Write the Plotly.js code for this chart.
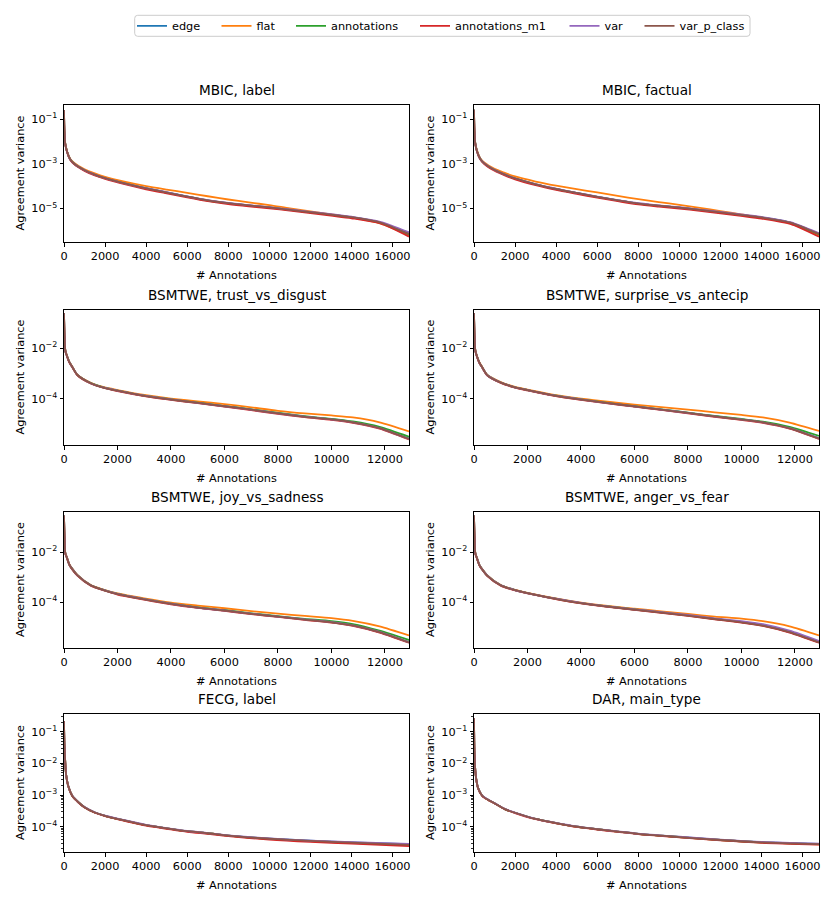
<!DOCTYPE html>
<html>
<head>
<meta charset="utf-8">
<script src="https://cdn.plot.ly/plotly-3.0.1.min.js"></script>
<style>
  html, body { margin: 0; padding: 0; background: #fff; }
  #chart { width: 831px; height: 900px; }
</style>
</head>
<body>
<div id="chart"></div>
<script>
// series names (legend order = drawing order)
const seriesNames = ['edge', 'flat', 'annotations', 'annotations_m1', 'var', 'var_p_class'];
const seriesColors = ['#1f77b4', '#ff7f0e', '#2ca02c', '#d62728', '#9467bd', '#8c564b'];

// x grids (number of annotations)
const xMBIC = [0, 20, 60, 150, 300, 500, 1000, 1500, 2000, 3000, 4000, 5000, 6000, 7000, 8000, 9000, 10000, 11000, 12000, 13000, 14000, 15400, 16800];
const xBSM = [0, 20, 50, 100, 200, 300, 500, 1000, 1500, 2000, 3000, 4000, 5000, 6000, 7000, 8000, 9000, 10000, 10800, 11800, 12900];
const xFD = [0, 20, 50, 100, 200, 400, 700, 1000, 1500, 2000, 3000, 4000, 5000, 6000, 7000, 8000, 10000, 12000, 14000, 16800];

// MBIC, label
const mbicLabelEdge = [2.6e-1, 3.0e-2, 8.0e-3, 3.5e-3, 1.6e-3, 1.0e-3, 5.2e-4, 3.3e-4, 2.3e-4, 1.3e-4, 8.0e-5, 5.2e-5, 3.4e-5, 2.3e-5, 1.7e-5, 1.35e-5, 1.1e-5, 8.6e-6, 6.7e-6, 5.2e-6, 4.0e-6, 2.3e-6, 7.8e-7];
const mbicLabelFlat = [2.6e-1, 3.1e-2, 8.5e-3, 3.7e-3, 1.7e-3, 1.1e-3, 5.7e-4, 3.7e-4, 2.6e-4, 1.55e-4, 1.0e-4, 7.0e-5, 5.0e-5, 3.5e-5, 2.5e-5, 1.85e-5, 1.4e-5, 1.0e-5, 7.4e-6, 5.3e-6, 3.9e-6, 2.1e-6, 6.0e-7];
const mbicLabelAnn = [2.6e-1, 3.0e-2, 8.0e-3, 3.5e-3, 1.6e-3, 1.0e-3, 5.1e-4, 3.2e-4, 2.25e-4, 1.28e-4, 7.8e-5, 5.1e-5, 3.35e-5, 2.25e-5, 1.68e-5, 1.33e-5, 1.08e-5, 8.5e-6, 6.6e-6, 5.1e-6, 3.9e-6, 2.25e-6, 6.8e-7];
const mbicLabelAnnM1 = [2.5e-1, 2.9e-2, 7.6e-3, 3.3e-3, 1.5e-3, 9.4e-4, 4.8e-4, 3.0e-4, 2.1e-4, 1.18e-4, 7.2e-5, 4.7e-5, 3.1e-5, 2.1e-5, 1.55e-5, 1.23e-5, 1.0e-5, 7.9e-6, 6.1e-6, 4.7e-6, 3.6e-6, 2.1e-6, 5.4e-7];
const mbicLabelVar = [2.6e-1, 3.0e-2, 8.1e-3, 3.5e-3, 1.6e-3, 1.0e-3, 5.2e-4, 3.3e-4, 2.3e-4, 1.3e-4, 8.1e-5, 5.3e-5, 3.45e-5, 2.35e-5, 1.75e-5, 1.4e-5, 1.13e-5, 8.9e-6, 7.0e-6, 5.5e-6, 4.2e-6, 2.5e-6, 8.4e-7];
const mbicLabelVarP = [2.6e-1, 3.0e-2, 8.0e-3, 3.5e-3, 1.6e-3, 1.0e-3, 5.15e-4, 3.25e-4, 2.28e-4, 1.29e-4, 7.9e-5, 5.15e-5, 3.38e-5, 2.28e-5, 1.7e-5, 1.35e-5, 1.1e-5, 8.6e-6, 6.7e-6, 5.2e-6, 4.0e-6, 2.3e-6, 7.0e-7];

// MBIC, factual
const mbicFactEdge = [2.7e-1, 3.2e-2, 8.5e-3, 3.6e-3, 1.7e-3, 1.05e-3, 5.3e-4, 3.3e-4, 2.2e-4, 1.2e-4, 7.4e-5, 4.9e-5, 3.3e-5, 2.3e-5, 1.65e-5, 1.32e-5, 1.08e-5, 8.5e-6, 6.6e-6, 5.1e-6, 3.9e-6, 2.3e-6, 7.2e-7];
const mbicFactFlat = [2.7e-1, 3.3e-2, 9.0e-3, 3.9e-3, 1.8e-3, 1.15e-3, 5.9e-4, 3.9e-4, 2.7e-4, 1.6e-4, 1.05e-4, 7.3e-5, 5.2e-5, 3.6e-5, 2.6e-5, 1.9e-5, 1.45e-5, 1.05e-5, 7.6e-6, 5.4e-6, 3.9e-6, 2.1e-6, 6.0e-7];
const mbicFactAnn = [2.7e-1, 3.2e-2, 8.5e-3, 3.6e-3, 1.7e-3, 1.05e-3, 5.25e-4, 3.25e-4, 2.18e-4, 1.19e-4, 7.3e-5, 4.85e-5, 3.25e-5, 2.27e-5, 1.63e-5, 1.3e-5, 1.07e-5, 8.4e-6, 6.5e-6, 5.0e-6, 3.85e-6, 2.25e-6, 6.9e-7];
const mbicFactAnnM1 = [2.6e-1, 3.1e-2, 8.1e-3, 3.4e-3, 1.6e-3, 9.8e-4, 4.9e-4, 3.0e-4, 2.0e-4, 1.1e-4, 6.8e-5, 4.5e-5, 3.0e-5, 2.1e-5, 1.5e-5, 1.2e-5, 9.8e-6, 7.8e-6, 6.0e-6, 4.6e-6, 3.5e-6, 2.0e-6, 5.3e-7];
const mbicFactVar = [2.7e-1, 3.2e-2, 8.6e-3, 3.6e-3, 1.7e-3, 1.06e-3, 5.35e-4, 3.35e-4, 2.25e-4, 1.22e-4, 7.6e-5, 5.0e-5, 3.4e-5, 2.35e-5, 1.7e-5, 1.36e-5, 1.12e-5, 8.8e-6, 6.9e-6, 5.3e-6, 4.1e-6, 2.4e-6, 7.6e-7];
const mbicFactVarP = [2.7e-1, 3.2e-2, 8.5e-3, 3.6e-3, 1.7e-3, 1.05e-3, 5.3e-4, 3.3e-4, 2.2e-4, 1.2e-4, 7.4e-5, 4.9e-5, 3.3e-5, 2.3e-5, 1.65e-5, 1.32e-5, 1.08e-5, 8.5e-6, 6.6e-6, 5.1e-6, 3.9e-6, 2.3e-6, 7.0e-7];

// BSMTWE, trust_vs_disgust
const trustEdge = [2.5e-1, 3.0e-2, 8.0e-3, 5.4e-3, 2.8e-3, 1.9e-3, 8.8e-4, 4.15e-4, 2.75e-4, 2.1e-4, 1.32e-4, 9.4e-5, 6.9e-5, 5.1e-5, 3.7e-5, 2.65e-5, 1.95e-5, 1.52e-5, 1.17e-5, 7.0e-6, 2.6e-6];
const trustFlat = [2.5e-1, 3.0e-2, 8.2e-3, 5.5e-3, 2.9e-3, 1.95e-3, 9.0e-4, 4.3e-4, 2.85e-4, 2.2e-4, 1.4e-4, 1.0e-4, 7.8e-5, 6.1e-5, 4.5e-5, 3.3e-5, 2.6e-5, 2.15e-5, 1.8e-5, 1.15e-5, 5.0e-6];
const trustAnn = [2.5e-1, 3.0e-2, 8.0e-3, 5.4e-3, 2.8e-3, 1.9e-3, 8.8e-4, 4.15e-4, 2.75e-4, 2.1e-4, 1.32e-4, 9.4e-5, 6.9e-5, 5.1e-5, 3.75e-5, 2.7e-5, 2.0e-5, 1.58e-5, 1.24e-5, 7.6e-6, 3.1e-6];
const trustAnnM1 = [2.4e-1, 2.9e-2, 7.8e-3, 5.2e-3, 2.7e-3, 1.85e-3, 8.5e-4, 4.0e-4, 2.65e-4, 2.0e-4, 1.27e-4, 9.0e-5, 6.6e-5, 4.85e-5, 3.5e-5, 2.5e-5, 1.85e-5, 1.45e-5, 1.1e-5, 6.5e-6, 2.4e-6];
const trustVar = [2.5e-1, 3.0e-2, 8.0e-3, 5.4e-3, 2.8e-3, 1.9e-3, 8.8e-4, 4.1e-4, 2.72e-4, 2.08e-4, 1.31e-4, 9.3e-5, 6.8e-5, 5.0e-5, 3.65e-5, 2.62e-5, 1.93e-5, 1.5e-5, 1.15e-5, 6.8e-6, 2.5e-6];
const trustVarP = [2.5e-1, 3.0e-2, 8.0e-3, 5.4e-3, 2.8e-3, 1.9e-3, 8.7e-4, 4.1e-4, 2.7e-4, 2.07e-4, 1.3e-4, 9.2e-5, 6.8e-5, 5.0e-5, 3.65e-5, 2.6e-5, 1.9e-5, 1.5e-5, 1.15e-5, 6.8e-6, 2.5e-6];

// BSMTWE, surprise_vs_antecip
const surpEdge = [2.5e-1, 3.0e-2, 8.0e-3, 5.2e-3, 2.7e-3, 1.8e-3, 8.5e-4, 4.4e-4, 2.9e-4, 2.2e-4, 1.35e-4, 9.4e-5, 6.8e-5, 5.0e-5, 3.7e-5, 2.75e-5, 2.0e-5, 1.5e-5, 1.16e-5, 6.8e-6, 2.7e-6];
const surpFlat = [2.5e-1, 3.0e-2, 8.2e-3, 5.3e-3, 2.8e-3, 1.85e-3, 8.8e-4, 4.6e-4, 3.0e-4, 2.3e-4, 1.42e-4, 1.0e-4, 7.6e-5, 5.8e-5, 4.6e-5, 3.7e-5, 2.85e-5, 2.25e-5, 1.8e-5, 1.12e-5, 5.2e-6];
const surpAnn = [2.5e-1, 3.0e-2, 8.0e-3, 5.2e-3, 2.7e-3, 1.8e-3, 8.5e-4, 4.4e-4, 2.9e-4, 2.2e-4, 1.35e-4, 9.4e-5, 6.8e-5, 5.0e-5, 3.75e-5, 2.8e-5, 2.05e-5, 1.56e-5, 1.23e-5, 7.6e-6, 3.3e-6];
const surpAnnM1 = [2.4e-1, 2.9e-2, 7.8e-3, 5.0e-3, 2.6e-3, 1.75e-3, 8.2e-4, 4.25e-4, 2.8e-4, 2.12e-4, 1.3e-4, 9.0e-5, 6.5e-5, 4.8e-5, 3.55e-5, 2.6e-5, 1.9e-5, 1.43e-5, 1.1e-5, 6.4e-6, 2.5e-6];
const surpVar = [2.5e-1, 3.0e-2, 8.0e-3, 5.2e-3, 2.7e-3, 1.8e-3, 8.5e-4, 4.4e-4, 2.9e-4, 2.2e-4, 1.34e-4, 9.3e-5, 6.7e-5, 4.95e-5, 3.68e-5, 2.72e-5, 1.98e-5, 1.49e-5, 1.15e-5, 6.7e-6, 2.6e-6];
const surpVarP = [2.5e-1, 3.0e-2, 8.0e-3, 5.2e-3, 2.7e-3, 1.8e-3, 8.4e-4, 4.35e-4, 2.87e-4, 2.18e-4, 1.33e-4, 9.2e-5, 6.7e-5, 4.9e-5, 3.65e-5, 2.7e-5, 1.96e-5, 1.48e-5, 1.14e-5, 6.6e-6, 2.6e-6];

// BSMTWE, joy_vs_sadness
const joyEdge = [3.0e-1, 4.0e-2, 9.0e-3, 6.5e-3, 3.2e-3, 2.2e-3, 1.2e-3, 4.7e-4, 3.0e-4, 2.1e-4, 1.3e-4, 8.5e-5, 6.0e-5, 4.6e-5, 3.4e-5, 2.6e-5, 2.0e-5, 1.55e-5, 1.15e-5, 6.2e-6, 2.4e-6];
const joyFlat = [3.0e-1, 4.0e-2, 9.2e-3, 6.7e-3, 3.3e-3, 2.25e-3, 1.22e-3, 4.8e-4, 3.1e-4, 2.2e-4, 1.4e-4, 9.5e-5, 7.2e-5, 5.6e-5, 4.3e-5, 3.4e-5, 2.75e-5, 2.25e-5, 1.75e-5, 1.05e-5, 4.5e-6];
const joyAnn = [3.0e-1, 4.0e-2, 9.0e-3, 6.5e-3, 3.2e-3, 2.2e-3, 1.2e-3, 4.7e-4, 3.0e-4, 2.1e-4, 1.3e-4, 8.6e-5, 6.1e-5, 4.7e-5, 3.5e-5, 2.7e-5, 2.1e-5, 1.7e-5, 1.3e-5, 7.0e-6, 2.95e-6];
const joyAnnM1 = [2.9e-1, 3.9e-2, 8.7e-3, 6.3e-3, 3.1e-3, 2.1e-3, 1.15e-3, 4.5e-4, 2.9e-4, 2.0e-4, 1.25e-4, 8.1e-5, 5.8e-5, 4.4e-5, 3.25e-5, 2.5e-5, 1.9e-5, 1.48e-5, 1.1e-5, 5.9e-6, 2.3e-6];
const joyVar = [3.0e-1, 4.0e-2, 9.0e-3, 6.5e-3, 3.2e-3, 2.2e-3, 1.2e-3, 4.7e-4, 3.0e-4, 2.1e-4, 1.3e-4, 8.5e-5, 6.0e-5, 4.6e-5, 3.4e-5, 2.6e-5, 2.0e-5, 1.56e-5, 1.16e-5, 6.3e-6, 2.4e-6];
const joyVarP = [3.0e-1, 4.0e-2, 9.0e-3, 6.4e-3, 3.15e-3, 2.15e-3, 1.18e-3, 4.65e-4, 2.95e-4, 2.07e-4, 1.28e-4, 8.4e-5, 5.95e-5, 4.55e-5, 3.35e-5, 2.57e-5, 1.97e-5, 1.53e-5, 1.14e-5, 6.1e-6, 2.35e-6];

// BSMTWE, anger_vs_fear
const angerEdge = [3.0e-1, 4.0e-2, 9.0e-3, 6.3e-3, 3.1e-3, 2.1e-3, 1.15e-3, 4.7e-4, 3.1e-4, 2.3e-4, 1.4e-4, 9.1e-5, 6.6e-5, 5.0e-5, 3.8e-5, 2.9e-5, 2.1e-5, 1.55e-5, 1.15e-5, 6.2e-6, 2.4e-6];
const angerFlat = [3.0e-1, 4.0e-2, 9.2e-3, 6.4e-3, 3.15e-3, 2.15e-3, 1.17e-3, 4.8e-4, 3.15e-4, 2.35e-4, 1.44e-4, 9.5e-5, 6.9e-5, 5.4e-5, 4.2e-5, 3.3e-5, 2.6e-5, 2.15e-5, 1.7e-5, 1.05e-5, 4.5e-6];
const angerAnn = [3.0e-1, 4.0e-2, 9.0e-3, 6.3e-3, 3.1e-3, 2.1e-3, 1.15e-3, 4.7e-4, 3.1e-4, 2.3e-4, 1.4e-4, 9.1e-5, 6.6e-5, 5.0e-5, 3.8e-5, 2.9e-5, 2.1e-5, 1.57e-5, 1.17e-5, 6.4e-6, 2.5e-6];
const angerAnnM1 = [2.9e-1, 3.9e-2, 8.7e-3, 6.1e-3, 3.0e-3, 2.05e-3, 1.1e-3, 4.55e-4, 3.0e-4, 2.2e-4, 1.35e-4, 8.8e-5, 6.35e-5, 4.8e-5, 3.65e-5, 2.75e-5, 2.0e-5, 1.48e-5, 1.1e-5, 5.9e-6, 2.3e-6];
const angerVar = [3.0e-1, 4.0e-2, 9.0e-3, 6.3e-3, 3.1e-3, 2.1e-3, 1.15e-3, 4.7e-4, 3.1e-4, 2.3e-4, 1.4e-4, 9.2e-5, 6.7e-5, 5.1e-5, 3.9e-5, 3.0e-5, 2.2e-5, 1.7e-5, 1.28e-5, 7.0e-6, 2.7e-6];
const angerVarP = [3.0e-1, 4.0e-2, 9.0e-3, 6.2e-3, 3.05e-3, 2.08e-3, 1.13e-3, 4.65e-4, 3.05e-4, 2.27e-4, 1.38e-4, 9.0e-5, 6.5e-5, 4.95e-5, 3.75e-5, 2.85e-5, 2.07e-5, 1.53e-5, 1.13e-5, 6.1e-6, 2.35e-6];

// FECG, label
const fecgEdge = [2.2e-1, 4.0e-2, 1.5e-2, 4.6e-3, 2.0e-3, 9.5e-4, 5.9e-4, 4.1e-4, 2.8e-4, 2.2e-4, 1.55e-4, 1.12e-4, 8.9e-5, 7.2e-5, 6.2e-5, 5.25e-5, 4.2e-5, 3.6e-5, 3.2e-5, 2.8e-5];
const fecgFlat = [2.2e-1, 4.0e-2, 1.5e-2, 4.6e-3, 2.0e-3, 9.5e-4, 5.9e-4, 4.1e-4, 2.8e-4, 2.2e-4, 1.55e-4, 1.12e-4, 8.9e-5, 7.2e-5, 6.2e-5, 5.2e-5, 4.1e-5, 3.5e-5, 3.1e-5, 2.6e-5];
const fecgAnn = [2.2e-1, 4.0e-2, 1.5e-2, 4.6e-3, 2.0e-3, 9.5e-4, 5.9e-4, 4.1e-4, 2.8e-4, 2.2e-4, 1.55e-4, 1.12e-4, 8.9e-5, 7.2e-5, 6.2e-5, 5.2e-5, 4.1e-5, 3.5e-5, 3.1e-5, 2.6e-5];
const fecgAnnM1 = [2.2e-1, 3.9e-2, 1.45e-2, 4.5e-3, 1.95e-3, 9.3e-4, 5.8e-4, 4.0e-4, 2.75e-4, 2.15e-4, 1.5e-4, 1.08e-4, 8.6e-5, 6.9e-5, 5.9e-5, 5.0e-5, 3.9e-5, 3.3e-5, 2.9e-5, 2.45e-5];
const fecgVar = [2.2e-1, 4.0e-2, 1.5e-2, 4.6e-3, 2.0e-3, 9.6e-4, 6.0e-4, 4.15e-4, 2.85e-4, 2.22e-4, 1.57e-4, 1.14e-4, 9.0e-5, 7.3e-5, 6.3e-5, 5.3e-5, 4.25e-5, 3.65e-5, 3.25e-5, 2.85e-5];
const fecgVarP = [2.2e-1, 4.0e-2, 1.5e-2, 4.6e-3, 2.0e-3, 9.5e-4, 5.9e-4, 4.1e-4, 2.8e-4, 2.2e-4, 1.55e-4, 1.12e-4, 8.9e-5, 7.2e-5, 6.2e-5, 5.2e-5, 4.15e-5, 3.55e-5, 3.15e-5, 2.65e-5];

// DAR, main_type
const darEdge = [2.6e-1, 2.5e-2, 8.0e-3, 3.5e-3, 1.65e-3, 9.5e-4, 7.0e-4, 5.5e-4, 3.6e-4, 2.75e-4, 1.75e-4, 1.3e-4, 1.0e-4, 8.3e-5, 7.0e-5, 5.95e-5, 4.75e-5, 3.85e-5, 3.25e-5, 2.85e-5];
const darFlat = [2.6e-1, 2.5e-2, 8.0e-3, 3.5e-3, 1.65e-3, 9.5e-4, 7.0e-4, 5.5e-4, 3.6e-4, 2.75e-4, 1.75e-4, 1.3e-4, 1.0e-4, 8.3e-5, 7.0e-5, 5.9e-5, 4.7e-5, 3.8e-5, 3.2e-5, 2.75e-5];
const darAnn = [2.6e-1, 2.5e-2, 8.0e-3, 3.5e-3, 1.65e-3, 9.5e-4, 7.0e-4, 5.5e-4, 3.6e-4, 2.75e-4, 1.75e-4, 1.3e-4, 1.0e-4, 8.3e-5, 7.0e-5, 5.9e-5, 4.7e-5, 3.8e-5, 3.2e-5, 2.8e-5];
const darAnnM1 = [2.6e-1, 2.5e-2, 7.9e-3, 3.45e-3, 1.62e-3, 9.3e-4, 6.9e-4, 5.4e-4, 3.55e-4, 2.7e-4, 1.72e-4, 1.28e-4, 9.8e-5, 8.1e-5, 6.85e-5, 5.8e-5, 4.6e-5, 3.7e-5, 3.1e-5, 2.7e-5];
const darVar = [2.6e-1, 2.5e-2, 8.0e-3, 3.5e-3, 1.65e-3, 9.6e-4, 7.1e-4, 5.55e-4, 3.65e-4, 2.8e-4, 1.77e-4, 1.32e-4, 1.02e-4, 8.4e-5, 7.1e-5, 6.0e-5, 4.8e-5, 3.9e-5, 3.3e-5, 2.9e-5];
const darVarP = [2.6e-1, 2.5e-2, 8.0e-3, 3.5e-3, 1.65e-3, 9.5e-4, 7.0e-4, 5.5e-4, 3.6e-4, 2.75e-4, 1.75e-4, 1.3e-4, 1.0e-4, 8.3e-5, 7.0e-5, 5.9e-5, 4.7e-5, 3.8e-5, 3.2e-5, 2.8e-5];

// tick positions and labels
const xTicksLong = [0, 2000, 4000, 6000, 8000, 10000, 12000, 14000, 16000];
const xTicksShort = [0, 2000, 4000, 6000, 8000, 10000, 12000];
const yTicksMBIC = [1e-1, 1e-3, 1e-5];
const yLabelsMBIC = ['10<sup>−1</sup>', '10<sup>−3</sup>', '10<sup>−5</sup>'];
const yTicksBSM = [1e-2, 1e-4];
const yLabelsBSM = ['10<sup>−2</sup>', '10<sup>−4</sup>'];
const yTicksFD = [1e-1, 1e-2, 1e-3, 1e-4];
const yLabelsFD = ['10<sup>−1</sup>', '10<sup>−2</sup>', '10<sup>−3</sup>', '10<sup>−4</sup>'];

const panelTitles = ['MBIC, label', 'MBIC, factual', 'BSMTWE, trust_vs_disgust', 'BSMTWE, surprise_vs_antecip',
  'BSMTWE, joy_vs_sadness', 'BSMTWE, anger_vs_fear', 'FECG, label', 'DAR, main_type'];

// панели: данные + оси
const panels = [
  { x: xMBIC, ys: [mbicLabelEdge, mbicLabelFlat, mbicLabelAnn, mbicLabelAnnM1, mbicLabelVar, mbicLabelVarP], xmax: 16800, yr: [-6.51, -0.36], xt: xTicksLong, yt: yTicksMBIC, yl: yLabelsMBIC },
  { x: xMBIC, ys: [mbicFactEdge, mbicFactFlat, mbicFactAnn, mbicFactAnnM1, mbicFactVar, mbicFactVarP], xmax: 16800, yr: [-6.51, -0.36], xt: xTicksLong, yt: yTicksMBIC, yl: yLabelsMBIC },
  { x: xBSM, ys: [trustEdge, trustFlat, trustAnn, trustAnnM1, trustVar, trustVarP], xmax: 12900, yr: [-5.84, -0.48], xt: xTicksShort, yt: yTicksBSM, yl: yLabelsBSM },
  { x: xBSM, ys: [surpEdge, surpFlat, surpAnn, surpAnnM1, surpVar, surpVarP], xmax: 12900, yr: [-5.84, -0.48], xt: xTicksShort, yt: yTicksBSM, yl: yLabelsBSM },
  { x: xBSM, ys: [joyEdge, joyFlat, joyAnn, joyAnnM1, joyVar, joyVarP], xmax: 12900, yr: [-5.85, -0.38], xt: xTicksShort, yt: yTicksBSM, yl: yLabelsBSM },
  { x: xBSM, ys: [angerEdge, angerFlat, angerAnn, angerAnnM1, angerVar, angerVarP], xmax: 12900, yr: [-5.85, -0.38], xt: xTicksShort, yt: yTicksBSM, yl: yLabelsBSM },
  { x: xFD, ys: [fecgEdge, fecgFlat, fecgAnn, fecgAnnM1, fecgVar, fecgVarP], xmax: 16800, yr: [-4.8, -0.44], xt: xTicksLong, yt: yTicksFD, yl: yLabelsFD, minor: true },
  { x: xFD, ys: [darEdge, darFlat, darAnn, darAnnM1, darVar, darVarP], xmax: 16800, yr: [-4.8, -0.44], xt: xTicksLong, yt: yTicksFD, yl: yLabelsFD, minor: true },
];

// геометрия в пикселях
const W = 831, H = 900;
const cols = [[64, 409], [474, 819]];
const rows = [[105, 242], [310, 445], [512, 648], [714, 852]];
const FONT = 'DejaVu Sans, sans-serif';
const FS = 11.3;       // тики, подписи осей, легенда
const FS_TITLE = 13.6; // заголовки панелей

// легенда: начало текста каждого пункта (px) и рамка вокруг
const legendTextX = [172, 256.5, 331, 455, 604.5, 679.5];
const legendBox = { x0: 134.7, x1: 750, y0: 15.3, y1: 36.3 };

const traces = [];
const annotations = [];
const layout = {
  width: W,
  height: H,
  margin: { l: 0, r: 0, t: 0, b: 0, pad: 0 },
  paper_bgcolor: '#fff',
  plot_bgcolor: '#fff',
  font: { family: FONT, size: FS, color: '#000' },
  showlegend: true,
};

// каждый пункт легенды — отдельная легенда, чтобы поставить его точно
seriesNames.forEach((name, k) => {
  const key = k === 0 ? 'legend' : 'legend' + (k + 1);
  layout[key] = {
    orientation: 'h',
    x: (legendTextX[k] - 40) / W,
    xanchor: 'left',
    y: 1 - (legendBox.y0 + legendBox.y1) / 2 / H,
    yanchor: 'middle',
    borderwidth: 0,
    bgcolor: 'rgba(0,0,0,0)',
    font: { family: FONT, size: FS, color: '#000' },
  };
});

// рамка легенды со скруглёнными углами
const rx = 3 / W, ry = 3 / H;
const bx0 = legendBox.x0 / W, bx1 = legendBox.x1 / W;
const by0 = 1 - legendBox.y1 / H, by1 = 1 - legendBox.y0 / H;
layout.shapes = [{
  type: 'path',
  xref: 'paper', yref: 'paper',
  path: `M ${bx0 + rx},${by0} L ${bx1 - rx},${by0} Q ${bx1},${by0} ${bx1},${by0 + ry} L ${bx1},${by1 - ry} Q ${bx1},${by1} ${bx1 - rx},${by1} L ${bx0 + rx},${by1} Q ${bx0},${by1} ${bx0},${by1 - ry} L ${bx0},${by0 + ry} Q ${bx0},${by0} ${bx0 + rx},${by0} Z`,
  line: { color: '#cccccc', width: 1 },
  fillcolor: 'rgba(0,0,0,0)',
}];

panels.forEach((p, i) => {
  const n = i + 1;
  const sfx = n === 1 ? '' : String(n);
  const col = cols[i % 2];
  const row = rows[Math.floor(i / 2)];

  p.ys.forEach((y, k) => {
    traces.push({
      x: p.x,
      y: y,
      xaxis: 'x' + sfx,
      yaxis: 'y' + sfx,
      type: 'scatter',
      mode: 'lines',
      name: seriesNames[k],
      legend: k === 0 ? 'legend' : 'legend' + (k + 1),
      showlegend: i === 0,
      line: { color: seriesColors[k], width: 1.8, shape: 'spline', smoothing: 0.7 },
    });
  });

  const axisCommon = {
    showline: true,
    mirror: true,
    linecolor: '#000',
    linewidth: 1,
    showgrid: false,
    zeroline: false,
    ticks: 'outside',
    ticklen: 3.5,
    tickwidth: 1,
    tickcolor: '#000',
    tickfont: { family: FONT, size: FS, color: '#000' },
  };

  layout['xaxis' + sfx] = Object.assign({}, axisCommon, {
    domain: [col[0] / W, col[1] / W],
    anchor: 'y' + sfx,
    range: [0, p.xmax],
    tickmode: 'array',
    tickvals: p.xt,
    ticktext: p.xt.map(String),
  });
  layout['yaxis' + sfx] = Object.assign({}, axisCommon, {
    domain: [1 - row[1] / H, 1 - row[0] / H],
    anchor: 'x' + sfx,
    type: 'log',
    range: p.yr,
    tickmode: 'array',
    tickvals: p.yt,
    ticktext: p.yl,
  });
  if (p.minor) {
    layout['yaxis' + sfx].minor = { ticks: 'outside', ticklen: 2, tickwidth: 0.8, tickcolor: '#000', dtick: 'D1', showgrid: false };
  }

  // заголовок панели
  annotations.push({
    text: panelTitles[i],
    xref: 'paper', yref: 'paper',
    x: (col[0] + col[1]) / 2 / W,
    y: 1 - row[0] / H,
    xanchor: 'center', yanchor: 'bottom',
    yshift: 5,
    showarrow: false,
    font: { family: FONT, size: FS_TITLE, color: '#000' },
  });
  // подпись оси X
  annotations.push({
    text: '# Annotations',
    xref: 'paper', yref: 'paper',
    x: (col[0] + col[1]) / 2 / W,
    y: 1 - (row[1] + 33) / H,
    xanchor: 'center', yanchor: 'middle',
    showarrow: false,
    font: { family: FONT, size: FS, color: '#000' },
  });
  // подпись оси Y
  annotations.push({
    text: 'Agreement variance',
    xref: 'paper', yref: 'paper',
    x: (col[0] - 44) / W,
    y: 1 - (row[0] + row[1]) / 2 / H,
    xanchor: 'center', yanchor: 'middle',
    textangle: -90,
    showarrow: false,
    font: { family: FONT, size: FS, color: '#000' },
  });
});

layout.annotations = annotations;

Plotly.newPlot('chart', traces, layout, { staticPlot: true });
</script>
</body>
</html>
